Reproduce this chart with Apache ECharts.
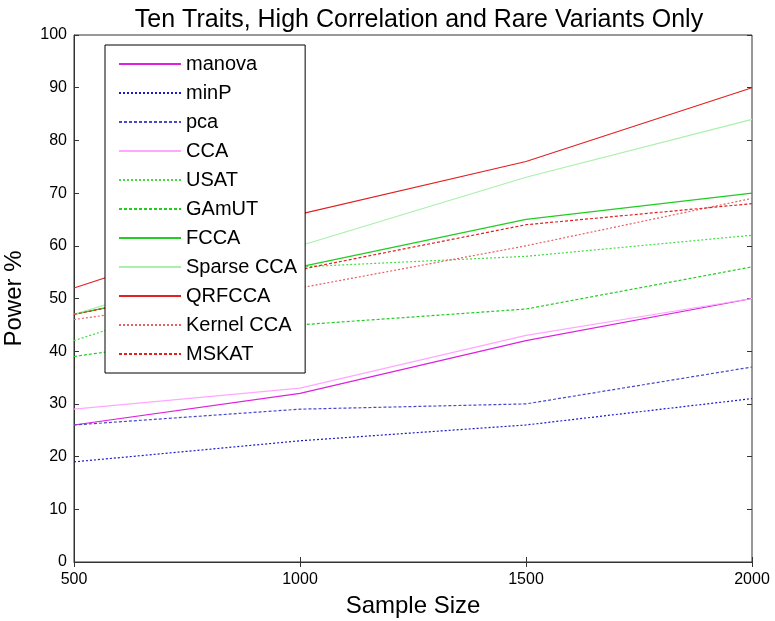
<!DOCTYPE html>
<html>
<head>
<meta charset="utf-8">
<script src="https://cdn.jsdelivr.net/npm/echarts@6/dist/echarts.min.js"></script>
<style>html,body{margin:0;padding:0;background:#fff;}#c{width:775px;height:621px;}</style>
</head>
<body>
<div id="c"></div>
<script>
const sampleSizes = [500, 1000, 1500, 2000];
const manova = [26, 32, 42, 50];
const minP = [19, 23, 26, 31];
const pca = [26, 29, 30, 37];
const cca = [29, 33, 43, 50];
const usat = [42, 56, 58, 62];
const gamut = [39, 45, 48, 56];
const fcca = [47, 56, 65, 70];
const sparseCca = [47, 60, 73, 84];
const qrfcca = [52, 66, 76, 90];
const kernelCca = [46, 52, 60, 69];
const mskat = [47, 55.5, 64, 68];
const yTicks = [0, 10, 20, 30, 40, 50, 60, 70, 80, 90, 100];
const xTicks = [500, 1000, 1500, 2000];

const seriesDefs = [
  ['manova', manova, '#dd22dd', 'solid'],
  ['minP', minP, '#1a1acc', [2, 2]],
  ['pca', pca, '#4848cc', [3, 2]],
  ['CCA', cca, '#ffa8ff', 'solid'],
  ['USAT', usat, '#44dd44', [2, 2]],
  ['GAmUT', gamut, '#22cc22', [3, 2]],
  ['FCCA', fcca, '#22cc22', 'solid'],
  ['Sparse CCA', sparseCca, '#aaf0aa', 'solid'],
  ['QRFCCA', qrfcca, '#e02222', 'solid'],
  ['Kernel CCA', kernelCca, '#e86060', [2, 2]],
  ['MSKAT', mskat, '#dd2222', [3, 2]]
];

const chart = echarts.init(document.getElementById('c'), null, {renderer: 'canvas'});
const axisCol = '#333';
const font = 'Liberation Sans, Arial, sans-serif';
chart.setOption({
  animation: false,
  backgroundColor: '#fff',
  title: {
    text: 'Ten Traits, High Correlation and Rare Variants Only',
    left: 414, textAlign: 'center', top: 3,
    textStyle: {fontFamily: font, fontWeight: 'normal', fontSize: 25, color: '#000'}
  },
  grid: {left: 74, right: 23, top: 35, bottom: 59, containLabel: false, outerBoundsMode: 'none',
    show: true, borderColor: axisCol, borderWidth: 1, backgroundColor: '#fff'},
  legend: {
    orient: 'vertical', left: 105, top: 45,
    padding: [9, 8, 9, 13], itemWidth: 62, itemHeight: 20, itemGap: 9,
    backgroundColor: '#fff', borderColor: '#000', borderWidth: 1,
    itemStyle: {opacity: 0},
    textStyle: {fontFamily: font, fontSize: 20, color: '#000'},
    data: seriesDefs.map(d => d[0])
  },
  xAxis: [{
    type: 'value', min: xTicks[0], max: xTicks[xTicks.length - 1], interval: 500,
    name: 'Sample Size', nameLocation: 'middle', nameGap: 32,
    nameTextStyle: {fontFamily: font, fontSize: 24, color: '#000'},
    axisLine: {lineStyle: {color: axisCol}},
    axisTick: {inside: true, length: 5, lineStyle: {color: axisCol}},
    axisLabel: {fontFamily: font, fontSize: 16, color: '#000', margin: 10, formatter: v => String(v)},
    splitLine: {show: false}
  }, {
    type: 'value', position: 'top', min: xTicks[0], max: xTicks[xTicks.length - 1], interval: 500,
    axisLine: {show: false}, axisTick: {inside: true, length: 5, lineStyle: {color: axisCol}},
    axisLabel: {show: false}, splitLine: {show: false}
  }],
  yAxis: [{
    type: 'value', min: yTicks[0], max: yTicks[yTicks.length - 1], interval: 10,
    name: 'Power %', nameLocation: 'middle', nameGap: 48,
    nameTextStyle: {fontFamily: font, fontSize: 24, color: '#000'},
    axisLine: {show: true, lineStyle: {color: axisCol}},
    axisTick: {show: true, inside: true, length: 5, lineStyle: {color: axisCol}},
    axisLabel: {fontFamily: font, fontSize: 16, color: '#000', margin: 7, formatter: v => String(v)},
    splitLine: {show: false}
  }, {
    type: 'value', position: 'right', min: yTicks[0], max: yTicks[yTicks.length - 1], interval: 10,
    axisLine: {show: false}, axisTick: {show: true, inside: true, length: 5, lineStyle: {color: axisCol}},
    axisLabel: {show: false}, splitLine: {show: false}
  }],
  series: seriesDefs.map(d => ({
    name: d[0], type: 'line', symbol: 'none', color: d[2],
    lineStyle: {color: d[2], width: 1.2, type: d[3]},
    data: sampleSizes.map((x, i) => [x, d[1][i]]),
    z: 2
  }))
});
</script>
</body>
</html>
